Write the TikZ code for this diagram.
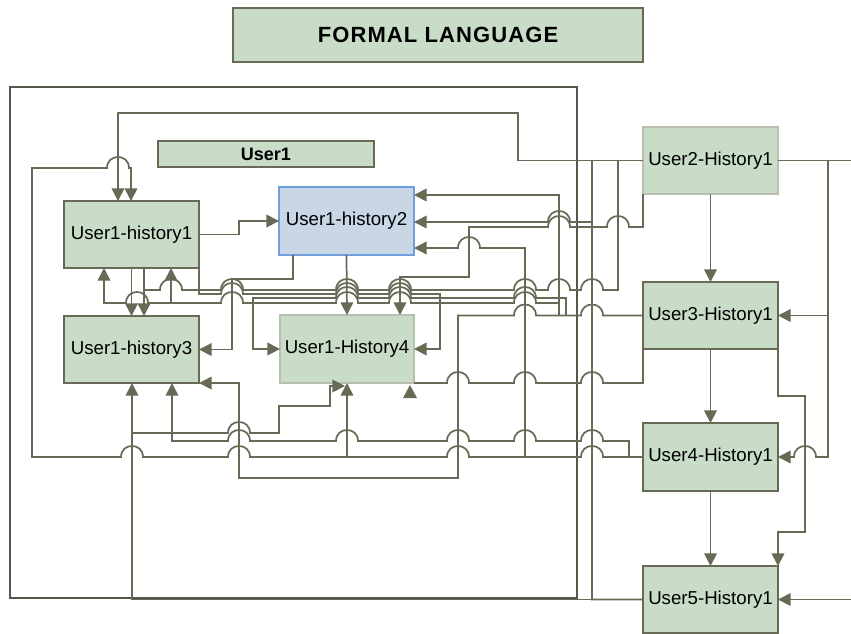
\documentclass[tikz,border=0pt]{standalone}
\usepackage{fontspec}
\setmainfont{Liberation Sans}
\usetikzlibrary{arrows.meta}
\definecolor{lc}{HTML}{686A56}
\definecolor{framec}{HTML}{55574A}
\definecolor{gfill}{HTML}{C8DCC8}
\definecolor{bfill}{HTML}{C8D6E6}
\definecolor{bline}{HTML}{6E9FDC}
\definecolor{lgline}{HTML}{B8BEB0}
\newcommand\hopL[2]{-- ({#1+11},#2) .. controls ({#1+11},{#2-14.7}) and ({#1-11},{#2-14.7}) .. ({#1-11},#2)}
\newcommand\hopR[2]{-- ({#1-11},#2) .. controls ({#1-11},{#2-14.7}) and ({#1+11},{#2-14.7}) .. ({#1+11},#2)}
\tikzset{
  box/.style={draw=lc, fill=gfill, line width=0.9pt, inner sep=0pt, outer sep=0pt,
    minimum width=101.25pt, minimum height=50.25pt, font=\fontsize{14}{16}\selectfont},
  lbox/.style={box, draw=lgline},
  bbox/.style={box, fill=bfill, draw=bline, minimum height=51pt},
  conn/.style={draw=lc, line width=1.3pt},
  arr/.style={-{Triangle[length=9.5pt,width=9.5pt]}},
}
\begin{document}
\begin{tikzpicture}[x=0.75pt,y=-0.75pt]
\useasboundingbox (0,0) rectangle (851,633);
% title and frame
\node[box, draw=lc, minimum width=307.5pt, minimum height=40.5pt,
  font=\fontsize{16.5}{18}\selectfont\bfseries\addfontfeature{LetterSpace=5}] (title) at (438,35) {FORMAL LANGUAGE};
\draw[framec, line width=2pt] (10,87) rectangle (577,598);
\node[box, minimum width=162pt, minimum height=19.5pt, font=\fontsize{13.5}{15}\selectfont\bfseries] (u1lbl) at (266,154) {User1};
% nodes
\node[box] (h1) at (131.5,234.5) {User1-history1};
\node[bbox] (h2) at (346.5,221) {User1-history2};
\node[box] (h3) at (131.5,349.5) {User1-history3};
\node[lbox, minimum width=100.5pt, minimum height=51pt] (h4) at (347,349) {User1-History4};
\node[lbox] (u2) at (710.5,160.5) {User2-History1};
\node[box] (u3) at (710.5,315.5) {User3-History1};
\node[box, minimum height=51pt] (u4) at (710.5,457) {User4-History1};
\node[box] (u5) at (710.5,599.5) {User5-History1};
% connectors
\draw[conn,arr] (u2.west) -- (518,160.5) -- (518,113) -- (118,113) -- (118,0 |- h1.north);
\draw[conn,arr] (u4.west) \hopL{592}{457} \hopL{458}{457} \hopL{239}{457} \hopL{132}{457} -- (32,457) -- (32,168) \hopR{118}{168} -- (131,168) -- (131,0 |- h1.north);
\draw[conn,arr] (347,457) -- (h4.south);
\draw[conn,arr] (525,457) -- (525,248) \hopL{469}{248} -- (h2.east |- 0,248);
\draw[conn,arr] (u3.west) \hopL{592}{315.5} \hopL{525}{315.5} -- (458,315.5) -- (458,478) -- (239,478) -- (239,383) -- (h3.south east);
\draw[conn,arr] (559,315.5) -- (559,195) -- (h2.east |- 0,195);
\draw[conn,arr] (559,303) \hopL{525}{303} \hopL{400}{303} \hopL{347}{303} \hopL{232}{303} -- (171,303) -- (171,0 |- h1.south);
\draw[conn,arr] (171,303) \hopL{137}{303} -- (104,303) -- (104,0 |- h1.south);
\draw[conn,arr] (566,315.5) -- (566,298) \hopL{525}{298} \hopL{400}{298} \hopL{347}{298} -- (253,298) -- (253,0 |- h4.west) -- (h4.west);
\draw[conn,arr] (618,160.5) -- (618,290) \hopL{592}{290} \hopL{559}{290} \hopL{525}{290} \hopL{400}{290} \hopL{347}{290} \hopL{232}{290} \hopL{171}{290} -- (144,290) -- (144,0 |- h3.north);
\draw[conn] (144,0 |- h1.south) -- (144,290);
\draw[conn,arr] (h1.south) -- (h3.north);
\draw[conn,arr] (h1.south east) -- (199,294) \hopR{232}{294} \hopR{347}{294} \hopR{400}{294} -- (440,294) -- (440,0 |- h4.east) -- (h4.east);
\draw[conn,arr] (h1.east) -- (239,234.5) -- (239,221) -- (h2.west);
\draw[conn,arr] (293,0 |- h2.south) -- (293,279) -- (232,279) -- (232,0 |- h3.east) -- (h3.east);
\draw[conn,arr] (h2.south) -- (h4.north);
\draw[conn,arr] (u2.south west) -- (643,227) \hopL{618}{227} \hopL{559}{227} -- (469,227) -- (469,277) -- (400,277) -- (400,0 |- h4.north);
\draw[conn,arr] (u5.west) -- (592,599.5) -- (592,222) \hopL{559}{222} -- (h2.east |- 0,222);
\draw[conn] (592,222) -- (592,160.5);
\draw[conn,arr] (592,599.5) -- (132,599.5) -- (132,0 |- h3.south);
\draw[conn,arr] (132,433) \hopR{239}{433} -- (279,433) -- (279,406) -- (330,406) -- (330,386) -- (345,386);
\draw[conn,arr] (629,457) -- (629,441) \hopL{592}{441} \hopL{525}{441} \hopL{458}{441} \hopL{347}{441} \hopL{239}{441} -- (172,441) -- (172,0 |- h3.south);
\draw[conn] (u3.south west) -- (643,383) \hopL{592}{383} \hopL{525}{383} \hopL{458}{383} -- (h4.south east);
\fill[lc] (403,398) -- (417,398) -- (410,385) -- cycle;
% right side
\draw[conn] (u2.east) -- (851,160.5);
\draw[conn,arr] (828,160.5) -- (828,315.5) -- (u3.east);
\draw[conn,arr] (828,315.5) -- (828,457) \hopL{805}{457} -- (u4.east);
\draw[conn,arr] (u2.south) -- (u3.north);
\draw[conn,arr] (u3.south) -- (u4.north);
\draw[conn,arr] (u4.south) -- (u5.north);
\draw[conn,arr] (u3.south east) -- (778,396) -- (805,396) -- (805,532) -- (778,532) -- (778,0 |- u5.north);
\draw[conn,arr] (851,599.5) -- (u5.east);
\end{tikzpicture}
\end{document}
